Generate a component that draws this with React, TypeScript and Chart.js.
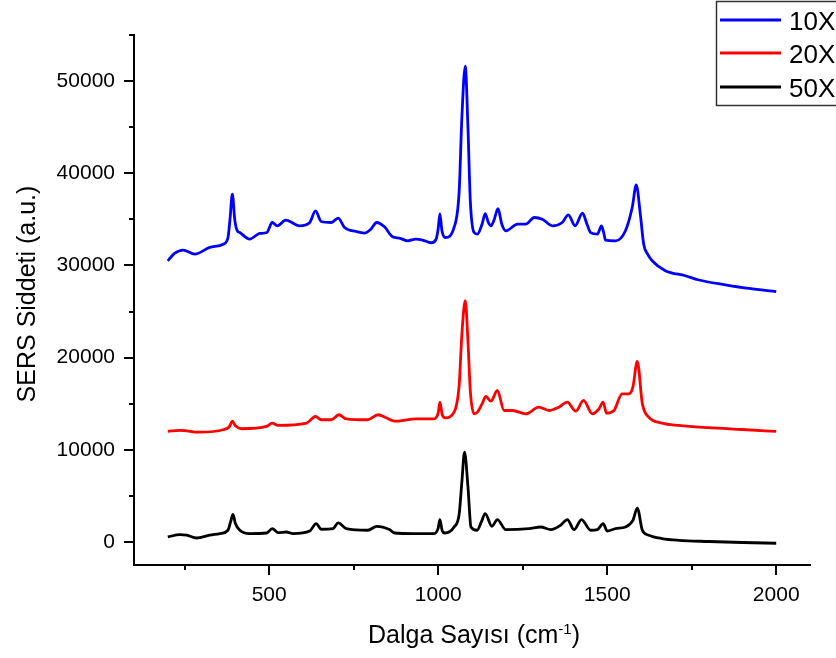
import React, { useEffect, useRef } from 'react';
import { Chart, registerables } from 'chart.js';

Chart.register(...registerables);

// ---- Data ----
const seriesLabels = ['10X', '20X', '50X'];
const seriesColors = ['#0000FF', '#FF0000', '#000000'];

const wn10 = [200, 220, 245, 280, 324, 364, 378, 384, 391, 398, 405, 413, 442, 472, 493, 509, 524, 549, 590, 620, 637, 654, 684, 704, 723, 757, 782, 801, 818, 841, 865, 885, 910, 934, 954, 979, 994, 1000, 1005, 1011, 1021, 1047, 1062, 1070, 1080, 1088, 1095, 1106, 1116, 1130, 1139, 1148, 1156, 1165, 1177, 1188, 1200, 1235, 1259, 1284, 1308, 1338, 1367, 1385, 1405, 1427, 1440, 1451, 1471, 1483, 1490, 1495, 1525, 1554, 1574, 1586, 1598, 1608, 1620, 1633, 1672, 1731, 1771, 1850, 1920, 2000];
const int10 = [30500, 31300, 31670, 31230, 31950, 32310, 33000, 35000, 37730, 35000, 33800, 33570, 32860, 33470, 33570, 34660, 34300, 34910, 34300, 34660, 35920, 34770, 34660, 35130, 34120, 33680, 33510, 33940, 34660, 34190, 33110, 32970, 32670, 32860, 32750, 32460, 32860, 34000, 35600, 33800, 33030, 34120, 38000, 46000, 51630, 45000, 37000, 33570, 33400, 34500, 35630, 34700, 34300, 34900, 36170, 34500, 33760, 34480, 34480, 35200, 35020, 34300, 34660, 35490, 34300, 35670, 34500, 33570, 33400, 34300, 33500, 32750, 32670, 33760, 36280, 38740, 35560, 32310, 31200, 30510, 29430, 28880, 28420, 27900, 27500, 27150];

const wn20 = [200, 236, 295, 364, 382, 391, 400, 418, 492, 509, 526, 610, 637, 654, 684, 706, 728, 792, 822, 846, 871, 934, 988, 1000, 1005, 1012, 1021, 1047, 1062, 1070, 1080, 1088, 1095, 1106, 1116, 1130, 1141, 1156, 1175, 1195, 1220, 1259, 1298, 1328, 1357, 1382, 1407, 1430, 1456, 1476, 1488, 1498, 1520, 1544, 1564, 1576, 1589, 1604, 1623, 1662, 1712, 1800, 1900, 2000];
const int20 = [12000, 12100, 11910, 12170, 12500, 13100, 12600, 12280, 12530, 12890, 12640, 12890, 13610, 13260, 13260, 13800, 13360, 13260, 13800, 13470, 13100, 13360, 13360, 14000, 15160, 13800, 13470, 14080, 17000, 22500, 26180, 21800, 16400, 13900, 14080, 15000, 15780, 15270, 16430, 14260, 14260, 13900, 14620, 14260, 14620, 15160, 14190, 15350, 13900, 14450, 15160, 13970, 14260, 16070, 16070, 16790, 19600, 14990, 13540, 12890, 12640, 12400, 12200, 11990];

const wn50 = [200, 236, 256, 285, 324, 354, 378, 386, 393, 400, 413, 442, 492, 509, 526, 551, 570, 620, 639, 654, 689, 704, 728, 792, 818, 856, 871, 925, 988, 1000, 1005, 1012, 1020, 1047, 1062, 1070, 1078, 1088, 1097, 1115, 1128, 1139, 1159, 1175, 1200, 1269, 1303, 1333, 1362, 1382, 1402, 1424, 1451, 1471, 1488, 1500, 1525, 1554, 1576, 1589, 1604, 1623, 1662, 1712, 1800, 1900, 2000];
const int50 = [540, 800, 730, 430, 730, 910, 1270, 2200, 3000, 2000, 1270, 910, 970, 1450, 1020, 1080, 910, 1190, 1990, 1380, 1450, 2060, 1450, 1270, 1700, 1340, 970, 910, 910, 1500, 2430, 1200, 970, 1620, 3000, 6500, 9750, 6000, 1620, 1270, 2200, 3080, 1700, 2430, 1340, 1450, 1620, 1340, 1810, 2430, 1340, 2430, 1270, 1340, 1990, 1190, 1450, 1620, 2350, 3680, 1270, 730, 370, 180, 50, -60, -140];

const xMajorTicks = [500, 1000, 1500, 2000];
const xMinorTicks = [250, 750, 1250, 1750];
const yMajorTicks = [0, 10000, 20000, 30000, 40000, 50000];
const yMinorTicks = [5000, 15000, 25000, 35000, 45000, 55000];

const xTitle = 'Dalga Sayısı (cm';
const xTitleSup = '-1';
const yTitle = 'SERS Siddeti (a.u.)';

const FONT = '"Liberation Sans", Arial, Helvetica, sans-serif';

const decorPlugin = {
  id: 'decor',
  afterDraw(chart: any) {
    const ctx = chart.ctx;
    const xs = chart.scales.x;
    const ys = chart.scales.y;
    const area = chart.chartArea;
    ctx.save();
    ctx.strokeStyle = '#000';
    ctx.lineWidth = 2;
    const drawX = (vals: number[], len: number) => {
      vals.forEach((v) => {
        const px = Math.round(xs.getPixelForValue(v));
        ctx.beginPath();
        ctx.moveTo(px, area.bottom);
        ctx.lineTo(px, area.bottom + len);
        ctx.stroke();
      });
    };
    const drawY = (vals: number[], len: number) => {
      vals.forEach((v) => {
        const py = Math.round(ys.getPixelForValue(v));
        ctx.beginPath();
        ctx.moveTo(area.left, py);
        ctx.lineTo(area.left - len, py);
        ctx.stroke();
      });
    };
    drawX(xMajorTicks, 10);
    drawX(xMinorTicks, 5);
    drawY(yMajorTicks, 10);
    drawY(yMinorTicks, 5);

    // axis titles
    ctx.fillStyle = '#000';
    ctx.font = `25px ${FONT}`;
    ctx.textBaseline = 'alphabetic';
    const mainW = ctx.measureText(xTitle).width;
    ctx.font = `15px ${FONT}`;
    const supW = ctx.measureText(xTitleSup).width;
    ctx.font = `25px ${FONT}`;
    const closeW = ctx.measureText(')').width;
    const total = mainW + supW + closeW;
    let sx = (area.left + area.right) / 2 + 2 - total / 2;
    const base = 643;
    ctx.textAlign = 'left';
    ctx.fillText(xTitle, sx, base);
    sx += mainW;
    ctx.font = `15px ${FONT}`;
    ctx.fillText(xTitleSup, sx, base - 9);
    sx += supW;
    ctx.font = `25px ${FONT}`;
    ctx.fillText(')', sx, base);

    ctx.save();
    ctx.translate(35, 294);
    ctx.rotate(-Math.PI / 2);
    ctx.textAlign = 'center';
    ctx.fillText(yTitle, 0, 0);
    ctx.restore();

    // legend box (cut at the right edge like the reference)
    ctx.lineWidth = 1.5;
    ctx.strokeStyle = '#333';
    ctx.strokeRect(716.5, 1.5, 140, 104);
    const rows = [20, 53, 87];
    seriesLabels.forEach((lab, i) => {
      ctx.strokeStyle = seriesColors[i];
      ctx.lineWidth = 2.8;
      ctx.beginPath();
      ctx.moveTo(720, rows[i]);
      ctx.lineTo(781, rows[i]);
      ctx.stroke();
      ctx.fillStyle = '#000';
      ctx.font = `26px ${FONT}`;
      ctx.textAlign = 'left';
      ctx.textBaseline = 'alphabetic';
      ctx.fillText(lab, 789, rows[i] + 10);
    });
    ctx.restore();
  },
};

export default function App() {
  const ref = useRef<HTMLCanvasElement>(null);
  useEffect(() => {
    if (!ref.current) return;
    const mk = (xs: number[], ys: number[]) => xs.map((x, i) => ({ x, y: ys[i] }));
    const datasets = [mk(wn10, int10), mk(wn20, int20), mk(wn50, int50)].map((d, i) => ({
      label: seriesLabels[i],
      data: d,
      borderColor: seriesColors[i],
      backgroundColor: seriesColors[i],
      borderWidth: 2.8,
      pointRadius: 0,
      fill: false,
      cubicInterpolationMode: 'monotone' as const,
    }));
    const chart = new Chart(ref.current, {
      type: 'line',
      data: { datasets },
      options: {
        animation: false,
        responsive: false,
        events: [],
        layout: { padding: { left: 0, right: 26, top: 35, bottom: 0 } },
        plugins: { legend: { display: false }, tooltip: { enabled: false }, title: { display: false } },
        scales: {
          x: {
            type: 'linear',
            min: 100,
            max: 2100,
            afterFit: (s: any) => { s.height = 93; },
            afterBuildTicks: (s: any) => { s.ticks = xMajorTicks.map((v) => ({ value: v })); },
            grid: { display: false, drawTicks: false },
            border: { display: true, color: '#000', width: 2 },
            ticks: {
              padding: 18,
              color: '#000',
              font: { family: FONT, size: 21 },
              maxRotation: 0,
              callback: (v: any) => String(v),
            },
          },
          y: {
            type: 'linear',
            min: -2500,
            max: 55000,
            afterFit: (s: any) => { s.width = 134; },
            afterBuildTicks: (s: any) => { s.ticks = yMajorTicks.map((v) => ({ value: v })); },
            grid: { display: false, drawTicks: false },
            border: { display: true, color: '#000', width: 2 },
            ticks: {
              padding: 19,
              color: '#000',
              font: { family: FONT, size: 21 },
              callback: (v: any) => String(v),
            },
          },
        },
      },
      plugins: [decorPlugin],
    });
    return () => chart.destroy();
  }, []);
  return (
    <div style={{ position: 'fixed', left: 0, top: 0, width: 836, height: 658, background: '#fff' }}>
      <canvas ref={ref} width={836} height={658} style={{ display: 'block', width: 836, height: 658 }} />
    </div>
  );
}
